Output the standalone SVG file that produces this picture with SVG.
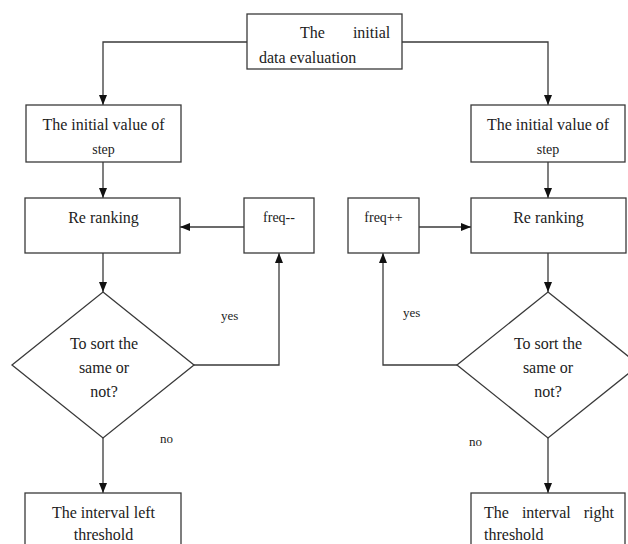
<svg xmlns="http://www.w3.org/2000/svg" width="628" height="544" viewBox="0 0 628 544" font-family="'Liberation Serif', 'Times New Roman', serif">
<style>
.box{fill:#fff;stroke:#3a3a3a;stroke-width:1.3}
.ln{fill:none;stroke:#3a3a3a;stroke-width:1.3}
text{font-family:'Liberation Serif','Times New Roman',serif;fill:#222}
.t16{font-size:16px}
.t14{font-size:14px}
.t13{font-size:13px}
.c{text-anchor:middle}
</style>
<defs>
<marker id="ah" markerUnits="userSpaceOnUse" markerWidth="10" markerHeight="10" viewBox="0 0 10 10" refX="10" refY="5" orient="auto">
<path d="M0,1 L10,5 L0,9 Z" fill="#111"/>
</marker>
</defs>
<rect width="628" height="544" fill="#fff"/>
<g id="connectors">
<path class="ln" d="M247,42 H103 V105" marker-end="url(#ah)"/>
<path class="ln" d="M402,42 H548 V105" marker-end="url(#ah)"/>
<path class="ln" d="M103,162 V198" marker-end="url(#ah)"/>
<path class="ln" d="M548,162 V198" marker-end="url(#ah)"/>
<path class="ln" d="M244,227 H180" marker-end="url(#ah)"/>
<path class="ln" d="M419,227 H471" marker-end="url(#ah)"/>
<path class="ln" d="M103,253 V292" marker-end="url(#ah)"/>
<path class="ln" d="M548,253 V292" marker-end="url(#ah)"/>
<path class="ln" d="M194,365 H279 V253" marker-end="url(#ah)"/>
<path class="ln" d="M457,365 H383 V253" marker-end="url(#ah)"/>
<path class="ln" d="M103,438 V493" marker-end="url(#ah)"/>
<path class="ln" d="M548,438 V493" marker-end="url(#ah)"/>
<text class="t13" x="221" y="320">yes</text>
<text class="t13" x="403" y="317">yes</text>
<text class="t13" x="160" y="443">no</text>
<text class="t13" x="469" y="446">no</text>
</g>
<g id="start">
<rect class="box" x="247" y="14" width="155" height="55"/>
<text class="t16" x="300" y="38" word-spacing="24">The initial</text>
<text class="t16" x="259" y="63">data evaluation</text>
</g>
<g id="init-left">
<rect class="box" x="26" y="105" width="155" height="57"/>
<text class="t16 c" x="103.5" y="130">The initial value of</text>
<text class="t14 c" x="103.5" y="154">step</text>
</g>
<g id="init-right">
<rect class="box" x="471" y="105" width="154" height="57"/>
<text class="t16 c" x="548" y="130">The initial value of</text>
<text class="t14 c" x="548" y="154">step</text>
</g>
<g id="rerank-left">
<rect class="box" x="25" y="198" width="155" height="55"/>
<text class="t16 c" x="103.5" y="223">Re ranking</text>
</g>
<g id="freq-minus">
<rect class="box" x="244" y="198" width="70" height="55"/>
<text class="t14 c" x="279" y="222">freq--</text>
</g>
<g id="freq-plus">
<rect class="box" x="348" y="198" width="71" height="55"/>
<text class="t14 c" x="383.5" y="222">freq++</text>
</g>
<g id="rerank-right">
<rect class="box" x="471" y="198" width="155" height="55"/>
<text class="t16 c" x="548.5" y="223">Re ranking</text>
</g>
<g id="decision-left">
<path class="box" d="M103,292 L194,365 L103,438 L12,365 Z"/>
<text class="t16 c" x="104" y="349">To sort the</text>
<text class="t16 c" x="104" y="373">same or</text>
<text class="t16 c" x="104" y="397">not?</text>
</g>
<g id="decision-right">
<path class="box" d="M548,292 L639,365 L548,438 L457,365 Z"/>
<text class="t16 c" x="548" y="349">To sort the</text>
<text class="t16 c" x="548" y="373">same or</text>
<text class="t16 c" x="548" y="397">not?</text>
</g>
<g id="left-threshold">
<rect class="box" x="25" y="493" width="156" height="60"/>
<text class="t16 c" x="103.5" y="518">The interval left</text>
<text class="t16 c" x="103.5" y="540">threshold</text>
</g>
<g id="right-threshold">
<rect class="box" x="471" y="493" width="154" height="60"/>
<text class="t16" x="484" y="518" word-spacing="9">The interval right</text>
<text class="t16" x="484" y="540">threshold</text>
</g>
</svg>
